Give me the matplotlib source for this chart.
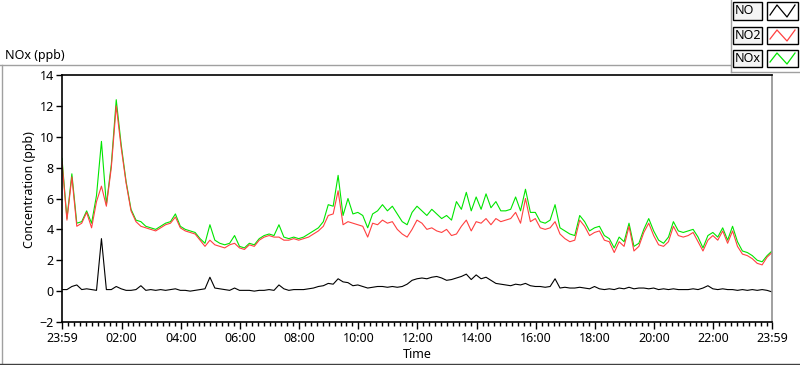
import numpy as np
import matplotlib
matplotlib.use('Agg')
import matplotlib.pyplot as plt
from matplotlib.lines import Line2D
from matplotlib.patches import Rectangle

plt.rcParams['font.family'] = ['Noto Sans', 'DejaVu Sans']

# time axis: minutes after midnight, starting at 23:59 the evening before, 10 min steps
minutes = np.arange(-1, 1440, 10)

no2 = [8.4, 4.6, 7.4, 4.2, 4.4, 5.1, 4.1, 5.8, 6.8, 5.5, 8.0, 12.0, 9.3, 7.0, 5.2, 4.5, 4.2, 4.1, 4.0, 3.9, 4.1, 4.3, 4.4, 4.8, 4.1,
       3.9, 3.8, 3.7, 3.3, 2.9, 3.3, 3.0, 2.9, 2.8, 3.0, 3.1, 2.8, 2.7, 3.0, 2.9, 3.3, 3.5, 3.6, 3.5, 3.5, 3.3, 3.3, 3.4, 3.3,
       3.4, 3.5, 3.7, 3.9, 4.2, 4.9, 5.0, 6.5, 4.3, 4.5, 4.4, 4.3, 4.2, 3.5, 4.4, 4.3, 4.6, 4.4, 4.5, 4.0,
       3.7, 3.5, 4.0, 4.6, 4.4, 4.0, 4.1, 3.9, 3.8, 4.0, 3.6, 3.7, 4.2, 4.6, 3.9, 4.5, 4.4, 4.7, 4.3,
       4.7, 4.5, 4.6, 4.7, 5.1, 4.4, 6.0, 4.5, 4.7, 4.1, 4.0, 4.1, 4.5, 3.7, 3.4, 3.2, 3.3, 4.6, 4.2, 3.6,
       3.8, 3.9, 3.3, 3.2, 2.5, 3.2, 2.9, 4.2, 2.6, 2.9, 3.8, 4.4, 3.6, 3.0, 2.9, 3.2, 4.2, 3.6, 3.5,
       3.6, 3.8, 3.2, 2.6, 3.3, 3.6, 3.3, 3.9, 3.1, 3.9, 2.9, 2.4, 2.3, 2.1, 1.8, 1.7, 2.2, 2.5]

nox = [8.6, 4.7, 7.6, 4.4, 4.5, 5.2, 4.4, 6.2, 9.7, 5.6, 8.2, 12.4, 9.5, 7.1, 5.3, 4.6, 4.5, 4.2, 4.1, 4.0, 4.2, 4.4, 4.5, 5.0, 4.2,
       4.0, 3.9, 3.8, 3.4, 3.1, 4.3, 3.3, 3.1, 3.0, 3.1, 3.6, 2.9, 2.8, 3.1, 3.0, 3.4, 3.6, 3.7, 3.6, 4.3, 3.5, 3.4, 3.5, 3.4,
       3.5, 3.7, 3.9, 4.1, 4.5, 5.6, 5.5, 7.5, 4.9, 6.0, 5.0, 5.1, 4.9, 4.1, 5.0, 5.2, 5.6, 5.2, 5.5, 5.0,
       4.5, 4.3, 5.1, 5.5, 5.2, 4.9, 5.3, 5.0, 4.7, 4.9, 4.6, 5.8, 5.3, 6.4, 5.2, 6.1, 5.3, 6.3, 5.4,
       5.8, 5.2, 5.2, 5.3, 6.1, 5.2, 6.6, 5.1, 5.1, 4.5, 4.4, 4.6, 5.6, 4.1, 3.9, 3.7, 3.6, 4.9, 4.5, 3.9,
       4.1, 4.2, 3.6, 3.4, 2.8, 3.5, 3.2, 4.4, 2.9, 3.1, 4.0, 4.7, 3.9, 3.3, 3.1, 3.5, 4.5, 3.9, 3.8,
       3.9, 4.0, 3.5, 2.8, 3.6, 3.8, 3.5, 4.1, 3.3, 4.2, 3.2, 2.6, 2.5, 2.3, 2.0, 1.9, 2.3, 2.6]

no = [0.1, 0.1, 0.3, 0.4, 0.1, 0.15, 0.1, 0.05, 3.4, 0.1, 0.1, 0.3, 0.15, 0.05, 0.05, 0.1, 0.35, 0.05, 0.1, 0.05, 0.1, 0.05, 0.1, 0.15, 0.05,
      0.05, 0.0, 0.05, 0.1, 0.15, 0.9, 0.2, 0.15, 0.1, 0.05, 0.2, 0.05, 0.05, 0.05, 0.0, 0.05, 0.05, 0.1, 0.05, 0.4, 0.15, 0.05, 0.1, 0.1,
      0.1, 0.15, 0.2, 0.3, 0.35, 0.5, 0.45, 0.8, 0.6, 0.55, 0.35, 0.4, 0.3, 0.2, 0.25, 0.3, 0.3, 0.25, 0.3, 0.25,
      0.3, 0.45, 0.7, 0.8, 0.85, 0.8, 0.9, 0.95, 0.85, 0.7, 0.75, 0.85, 0.95, 1.1, 0.75, 1.05, 0.8, 0.9, 0.7,
      0.5, 0.45, 0.4, 0.35, 0.45, 0.4, 0.5, 0.35, 0.3, 0.3, 0.25, 0.3, 0.8, 0.2, 0.25, 0.2, 0.2, 0.25, 0.2, 0.15,
      0.3, 0.15, 0.1, 0.15, 0.1, 0.2, 0.15, 0.25, 0.15, 0.2, 0.2, 0.15, 0.2, 0.1, 0.15, 0.1, 0.15, 0.1, 0.1,
      0.1, 0.15, 0.1, 0.2, 0.35, 0.15, 0.1, 0.15, 0.1, 0.1, 0.05, 0.1, 0.05, 0.1, 0.05, 0.1, 0.05, -0.05]

tick_pos = [-1, 120, 240, 360, 480, 600, 720, 840, 960, 1080, 1200, 1320, 1439]
tick_labels = ['23:59', '02:00', '04:00', '06:00', '08:00', '10:00', '12:00',
               '14:00', '16:00', '18:00', '20:00', '22:00', '23:59']

series_names = ['NO', 'NO2', 'NOx']
series_colors = ['#000000', '#ff4040', '#00e600']

W, H = 800, 365
fig = plt.figure(figsize=(W / 100, H / 100), dpi=100)
fig.patch.set_facecolor('white')

def px(x0, y0, x1, y1):
    # pixel box -> figure fraction rect
    return [x0 / W, 1 - y1 / H, (x1 - x0) / W, (y1 - y0) / H]

ax = fig.add_axes(px(62, 75, 772, 322))
ax.plot(minutes, no, color=series_colors[0], lw=0.8)
ax.plot(minutes, nox, color=series_colors[2], lw=0.8)
ax.plot(minutes, no2, color=series_colors[1], lw=0.8)

ax.set_xlim(-1, 1439)
ax.set_ylim(-2, 14)
ax.set_yticks(np.arange(-2, 15, 2))
ax.set_xticks(tick_pos)
ax.set_xticklabels(tick_labels)
ax.set_xticks([m for m in range(0, 1440, 12) if m % 120 != 0], minor=True)
ax.tick_params(axis='both', which='major', direction='out', labelsize=9, width=1, colors='black')
ax.tick_params(axis='y', length=4, pad=2)
ax.tick_params(axis='x', length=5, pad=2)
ax.tick_params(axis='x', which='minor', length=3, width=1)
for s in ['left', 'top', 'bottom']:
    ax.spines[s].set_color('black')
    ax.spines[s].set_linewidth(1.2)
ax.spines['right'].set_color('#909090')
ax.spines['right'].set_linewidth(1.2)

fig.text(30 / W, 1 - 190 / H, 'Concentration (ppb)', rotation=90, ha='center', va='center', fontsize=9)
fig.text(417 / W, 1 - 354 / H, 'Time', ha='center', va='center', fontsize=9)
fig.text(5 / W, 1 - 55 / H, 'NOx (ppb)', ha='left', va='center', fontsize=9)

# outer panel frame
fig.add_artist(Line2D([0, 731 / W], [1 - 65 / H, 1 - 65 / H], color='#a0a0a0', lw=1))
fig.add_artist(Line2D([1.5 / W, 1.5 / W], [1 - 65 / H, 1 - 363 / H], color='#a0a0a0', lw=1))
fig.add_artist(Line2D([0, 1], [1 - 363.5 / H, 1 - 363.5 / H], color='#404040', lw=1))
fig.add_artist(Line2D([731 / W, 731 / W], [1, 1 - 72 / H], color='#a0a0a0', lw=1))
fig.add_artist(Line2D([731 / W, 1], [1 - 72 / H, 1 - 72 / H], color='#a0a0a0', lw=1))

# legend boxes
rows = [(2, 20), (27, 44), (50, 67)]
for name, col, (y0, y1) in zip(series_names, series_colors, rows):
    fig.add_artist(Rectangle((733 / W, 1 - y1 / H), 29 / W, (y1 - y0) / H,
                             facecolor='#f4f4f4', edgecolor='black', lw=1))
    fig.text(735 / W, 1 - (y0 + y1) / 2 / H, name, ha='left', va='center', fontsize=9)
    fig.add_artist(Rectangle((767 / W, 1 - y1 / H), 31 / W, (y1 - y0) / H,
                             facecolor='white', edgecolor='black', lw=1))
    zx = [770, 777, 787, 795]
    zy = [y1 - 5, y0 + 3, y1 - 3, y0 + 3]
    fig.add_artist(Line2D([v / W for v in zx], [1 - v / H for v in zy], color=col, lw=0.9))

fig.savefig('out.png', dpi=100)
